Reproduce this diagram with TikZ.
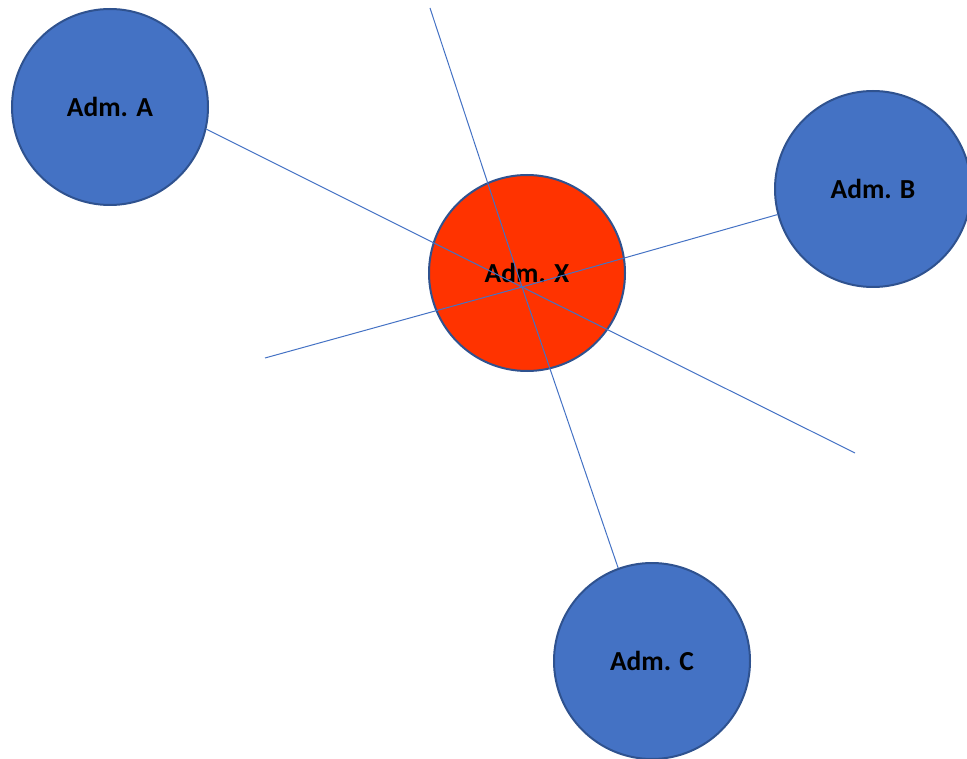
\documentclass[tikz,border=0pt]{standalone}
\usepackage{fontspec}
\setmainfont{Carlito}
\definecolor{admblue}{HTML}{4472C4}
\definecolor{admedge}{HTML}{2F528F}
\definecolor{admred}{HTML}{FF3300}
\begin{document}
\begin{tikzpicture}[x=1pt,y=-1pt,
  adm/.style={circle,draw=admedge,line width=2pt,minimum size=196pt,inner sep=0pt,
    font=\fontsize{27.5}{30}\selectfont\bfseries},
  blueadm/.style={adm,fill=admblue},
  redadm/.style={adm,fill=admred},
  link/.style={draw=admblue,line width=1pt}]
\useasboundingbox (0,0) rectangle (967,759);
\clip (0,0) rectangle (967,759);
\node[blueadm] (A) at (110,107) {Adm. A};
\node[blueadm] (B) at (873,189) {Adm. B};
\node[blueadm] (C) at (652,661) {Adm. C};
\node[redadm]  (X) at (527,273) {Adm. X};
\coordinate (hub) at (522,287);
\coordinate (e1) at (855,453);
\coordinate (e2) at (430,8);
\coordinate (e3) at (265,358);
\draw[link] (A.-13) -- (hub) -- (e1);
\draw[link] (e2) -- (hub) -- (C.110);
\draw[link] (e3) -- (hub) -- (B.195);
\end{tikzpicture}
\end{document}
